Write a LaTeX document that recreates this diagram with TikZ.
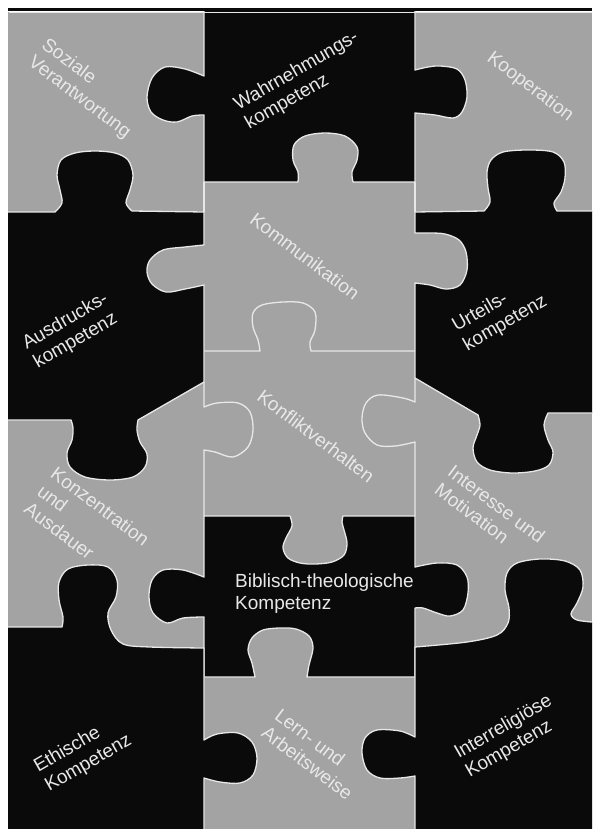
\documentclass[tikz,border=0pt]{standalone}
\usepackage{fontspec}
\setmainfont{Liberation Sans}
\definecolor{pg}{RGB}{163,163,163}
\definecolor{pb}{RGB}{10,10,10}
\definecolor{pl}{RGB}{232,232,232}
\begin{document}
\begin{tikzpicture}[x=1pt,y=-1pt,
  blackpiece/.style={fill=pb, draw=pl, line width=1.3pt, line join=round},
  seam/.style={draw=pl, line width=1.3pt, line join=round},
  lbl/.style={text=pl, font=\fontsize{19}{22}\selectfont, align=left, inner sep=0pt},
  tabcurve/.style={smooth, tension=0.55}]
\useasboundingbox (0,0) rectangle (592,829);
\fill[white] (0,0) rectangle (592,829);
\begin{scope}
\clip (8,12) rectangle (592,829);
\fill[pg] (8,12) rectangle (592,829);
% Wahrnehmung (black, top middle)
\path[blackpiece] (204,-5) -- (204,76)
  -- plot[tabcurve] coordinates {(204,76) (185,69) (165,67) (152,78) (147,97) (151,112) (163,120) (177,122) (192,116) (204,115)}
  -- (204,182) -- (298,182)
  -- plot[tabcurve] coordinates {(298,182) (298,172) (293,160) (294,145) (305,136) (325,133) (345,136) (357,147) (357,160) (352,172) (353,182)}
  -- (415,182) -- (415,113)
  -- plot[tabcurve] coordinates {(415,113) (435,115) (453,118) (462,112) (467,97) (465,80) (457,69) (440,66) (428,67) (415,70)}
  -- (415,-5) -- cycle;
% Ausdruckskompetenz (black, left)
\path[blackpiece] (-5,212) -- (55,212)
  -- plot[tabcurve] coordinates {(55,212) (62,203) (60,190) (57,175) (61,160) (75,153) (95,151) (115,153) (128,160) (133,175) (130,190) (126,203) (132,211)}
  -- (204,212) -- (204,245)
  -- plot[tabcurve] coordinates {(204,245) (185,247) (163,250) (150,260) (147,272) (152,284) (166,292) (185,289) (204,285)}
  -- (204,382) -- (138,420)
  -- plot[tabcurve] coordinates {(138,420) (137,430) (140,442) (147,454) (145,467) (133,477) (110,480) (85,477) (70,467) (67,453) (72,440) (73,428) (71,420)}
  -- (-5,420) -- cycle;
% Urteilskompetenz (black, right)
\path[blackpiece] (415,212) -- (484,211)
  -- plot[tabcurve] coordinates {(484,211) (490,202) (488,188) (487,172) (491,160) (503,152) (528,150) (553,152) (564,162) (565,178) (561,192) (554,203) (557,211)}
  -- (600,211) -- (600,413) -- (548,413)
  -- plot[tabcurve] coordinates {(548,413) (544,425) (548,440) (553,452) (549,465) (535,471) (512,473) (490,470) (477,462) (473,448) (477,435) (480,425) (478,415)}
  -- (415,378) -- (415,283)
  -- plot[tabcurve] coordinates {(415,283) (430,285) (446,289) (460,285) (467,270) (466,252) (459,240) (445,234) (430,233) (415,233)}
  -- cycle;
% Biblisch-theologische Kompetenz (black, middle)
\path[blackpiece] (204,516) -- (290,516)
  -- plot[tabcurve] coordinates {(290,516) (292,526) (286,538) (283,548) (288,558) (300,563) (315,564) (332,562) (344,555) (347,543) (344,530) (342,522) (343,516)}
  -- (415,516) -- (415,567)
  -- plot[tabcurve] coordinates {(415,567) (437,563) (457,565) (467,577) (468,593) (463,610) (450,616) (437,613) (423,608) (415,608)}
  -- (415,677) -- (307,677)
  -- plot[tabcurve] coordinates {(307,677) (309,665) (313,648) (309,636) (296,629) (280,628) (263,630) (252,638) (248,650) (252,663) (255,677)}
  -- (204,677) -- (204,617)
  -- plot[tabcurve] coordinates {(204,617) (183,618) (167,623) (153,613) (149,597) (152,580) (163,570) (183,570) (204,577)}
  -- cycle;
% Ethische Kompetenz (black, bottom left)
\path[blackpiece] (-5,627) -- (62,627)
  -- plot[tabcurve] coordinates {(62,627) (63,617) (59,600) (59,582) (68,569) (88,565) (108,567) (117,580) (116,597) (108,613) (111,630) (123,644) (150,647) (204,648)}
  -- (204,740)
  -- plot[tabcurve] coordinates {(204,740) (217,734) (238,733) (252,742) (257,758) (253,775) (240,783) (220,782) (204,778)}
  -- (204,840) -- (-5,840) -- cycle;
% Interreligioese Kompetenz (black, bottom right)
\path[blackpiece] (415,840) -- (415,776)
  -- plot[tabcurve] coordinates {(415,776) (400,778) (380,778) (367,770) (362,753) (365,738) (377,730) (400,731) (415,737)}
  -- (415,647)
  -- plot[tabcurve] coordinates {(415,647) (467,642) (497,635) (508,623) (509,608) (505,590) (507,573) (517,563) (540,559) (565,561) (580,570) (583,587) (577,603) (571,614) (577,620) (592,622)}
  -- (600,622) -- (600,840) -- cycle;
% seams between grey pieces
\draw[seam] (204,182) -- (204,212);
\draw[seam] (415,182) -- (415,212);
\draw[seam] (204,351) -- (260,351)
  -- plot[tabcurve] coordinates {(260,351) (258,340) (253,327) (253,313) (262,305) (283,302) (303,303) (315,312) (315,330) (310,342) (311,351)}
  -- (415,351);
\draw[seam] (204,382) -- (204,407)
  -- plot[tabcurve] coordinates {(204,407) (217,403) (238,403) (250,412) (253,430) (248,447) (233,457) (215,452) (204,450)}
  -- (204,516);
\draw[seam] (415,378) -- (415,402)
  -- plot[tabcurve] coordinates {(415,402) (403,398) (378,395) (366,403) (362,418) (365,433) (377,445) (395,446) (415,442)}
  -- (415,516);
\end{scope}
\fill[pb] (8,8) rectangle (592,11.3);
\draw[pl, line width=1pt] (8.5,12.3) -- (592,12.3);
% labels
\node[lbl, rotate=-37] (soz) at (86,89) {Soziale\\Verantwortung};
\node[lbl, rotate=30] (wahr) at (302,81) {Wahrnehmungs-\\kompetenz};
\node[lbl, rotate=-37] (koop) at (530,87) {Kooperation};
\node[lbl, rotate=-37] (komm) at (305,256) {Kommunikation};
\node[lbl, rotate=30] (ausd) at (71,331) {Ausdrucks-\\kompetenz};
\node[lbl, rotate=30] (urt) at (500,314) {Urteils-\\kompetenz};
\node[lbl, rotate=-37] (konf) at (316,436) {Konfliktverhalten};
\node[lbl, rotate=-37] (konz) at (87,524) {Konzentration\\und\\Ausdauer};
\node[lbl, rotate=-37] (inter) at (490,513) {Interesse und\\Motivation};
\node[lbl, anchor=north west] (bib) at (235,574) {Biblisch-theologische\\Kompetenz};
\node[lbl, rotate=30] (eth) at (83,754) {Ethische\\Kompetenz};
\node[lbl, rotate=-37] (lern) at (314,754) {Lern- und\\Arbeitsweise};
\node[lbl, rotate=30] (irel) at (509,737) {Interreligiöse\\Kompetenz};
\end{tikzpicture}
\end{document}
